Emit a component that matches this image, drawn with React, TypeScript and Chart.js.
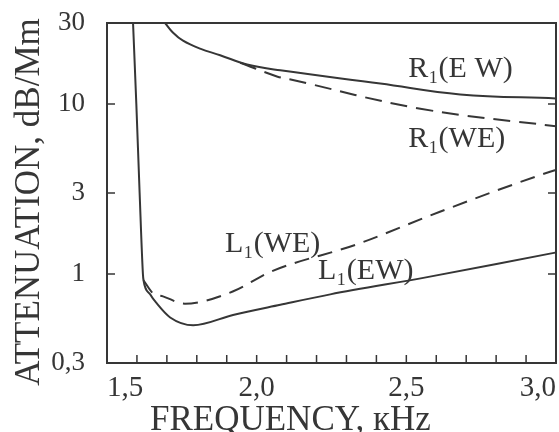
import React, { useEffect, useRef } from "react";
import { Chart, registerables } from "chart.js";

Chart.register(...registerables);

// ---- data ----
const xTickValues = [1.5, 2.0, 2.5, 3.0];
const xTickLabels = ["1,5", "2,0", "2,5", "3,0"];
const xMinorTicks = [1.6, 1.7, 1.8, 1.9, 2.0, 2.1, 2.2, 2.3, 2.4, 2.5, 2.6, 2.7, 2.8, 2.9];
const yTickValues = [0.3, 1, 3, 10, 30];
const yTickLabels = ["0,3", "1", "3", "10", "30"];
const yInnerTicks = [1, 3, 10];

// R1 (E W) solid
const r1EWFreq = [1.694, 1.72, 1.754, 1.811, 1.878, 1.968, 2.079, 2.413, 2.68, 3.0];
const r1EWAtt = [30, 26.4, 23.6, 21.2, 19.4, 17.1, 15.8, 13.2, 11.4, 10.8];

// R1 (W E) dashed
const r1WEFreq = [1.945, 2.07, 2.11, 2.547, 3.0];
const r1WEAtt = [17.5, 14.5, 14.0, 9.4, 7.4];

// L1 (E W) solid
const l1EWFreq = [1.587, 1.598, 1.609, 1.62, 1.622, 1.644, 1.667, 1.711, 1.788, 1.921, 2.079, 2.246, 2.57, 2.98, 3.0];
const l1EWAtt = [30, 10, 3, 1, 0.92, 0.76, 0.67, 0.556, 0.5, 0.575, 0.66, 0.76, 0.96, 1.32, 1.34];

// L1 (W E) dashed
const l1WEFreq = [1.622, 1.654, 1.687, 1.76, 1.92, 2.045, 2.336, 2.61, 2.98, 3.0];
const l1WEAtt = [0.92, 0.77, 0.74, 0.67, 0.79, 1.03, 1.5, 2.32, 4.0, 4.1];

const curveLabelText = ["R\u2081(E W)", "R\u2081(WE)", "L\u2081(WE)", "L\u2081(EW)"];
const curveLabelFreq = [2.506, 2.506, 1.894, 2.205];
const curveLabelAtt = [14.4, 5.6, 1.35, 0.935];

const xTitle = "FREQUENCY, \u043AHz";
const yTitle = "ATTENUATION, dB/Mm";

const INK = "#363636";
const FONT = '"Liberation Serif", "DejaVu Serif", serif';

const toPoints = (xs: number[], ys: number[]) => xs.map((x, i) => ({ x, y: ys[i] }));

const decor = {
  id: "decor",
  afterDraw(chart: any) {
    const ctx: CanvasRenderingContext2D = chart.ctx;
    const ca = chart.chartArea;
    const xs = chart.scales.x;
    const ys = chart.scales.y;
    ctx.save();
    ctx.setLineDash([]);
    ctx.strokeStyle = INK;
    ctx.lineWidth = 2;
    ctx.beginPath();
    ctx.moveTo(ca.left, ca.top);
    ctx.lineTo(ca.right, ca.top);
    ctx.lineTo(ca.right, ca.bottom);
    ctx.lineTo(ca.left, ca.bottom);
    ctx.closePath();
    ctx.stroke();

    ctx.lineWidth = 1.5;
    ctx.beginPath();
    for (const v of xMinorTicks) {
      const px = xs.getPixelForValue(v);
      ctx.moveTo(px, ca.bottom);
      ctx.lineTo(px, ca.bottom - 8);
    }
    for (const v of yInnerTicks) {
      const py = ys.getPixelForValue(v);
      ctx.moveTo(ca.left, py);
      ctx.lineTo(ca.left + 8, py);
      ctx.moveTo(ca.right, py);
      ctx.lineTo(ca.right - 8, py);
    }
    ctx.stroke();

    ctx.fillStyle = INK;
    ctx.textAlign = "left";
    ctx.textBaseline = "alphabetic";
    ctx.font = `30px ${FONT}`;
    curveLabelText.forEach((t, i) => {
      ctx.fillText(t, xs.getPixelForValue(curveLabelFreq[i]), ys.getPixelForValue(curveLabelAtt[i]));
    });

    ctx.font = `35px ${FONT}`;
    ctx.fillText(xTitle, 150, 430);

    ctx.save();
    ctx.translate(30, 202);
    ctx.rotate(-Math.PI / 2);
    ctx.textAlign = "center";
    ctx.textBaseline = "middle";
    ctx.fillText(yTitle, 0, 0);
    ctx.restore();
    ctx.restore();
  },
};

export default function App() {
  const ref = useRef<HTMLCanvasElement | null>(null);
  useEffect(() => {
    if (!ref.current) return;
    const common = { borderColor: INK, borderWidth: 2, pointRadius: 0, fill: false };
    const smooth = { tension: 0.4 };
    const mono = { cubicInterpolationMode: "monotone" as const };
    const chart = new Chart(ref.current, {
      type: "line",
      data: {
        datasets: [
          { label: "R1(EW)", data: toPoints(r1EWFreq, r1EWAtt), ...common, ...smooth },
          { label: "R1(WE)", data: toPoints(r1WEFreq, r1WEAtt), ...common, ...smooth, borderDash: [17, 9] },
          { label: "L1(EW)", data: toPoints(l1EWFreq, l1EWAtt), ...common, ...mono },
          { label: "L1(WE)", data: toPoints(l1WEFreq, l1WEAtt), ...common, ...mono, borderDash: [15, 9] },
        ],
      },
      options: {
        responsive: false,
        animation: false,
        parsing: false as any,
        layout: { padding: { left: 0, top: 23, right: 3, bottom: 0 } },
        plugins: { legend: { display: false }, tooltip: { enabled: false } },
        scales: {
          x: {
            type: "linear",
            min: 1.5,
            max: 3.0,
            grid: { display: false, drawTicks: false },
            border: { display: false },
            afterBuildTicks: (s: any) => {
              s.ticks = xTickValues.map((v) => ({ value: v }));
            },
            afterFit: (s: any) => {
              s.height = 69;
              s.paddingLeft = 0;
              s.paddingRight = 0;
            },
            ticks: {
              align: "inner",
              padding: 8,
              color: INK,
              font: { family: FONT, size: 29 },
              maxRotation: 0,
              callback: (_v: any, i: number) => xTickLabels[i],
            },
          },
          y: {
            type: "logarithmic",
            min: 0.3,
            max: 30,
            grid: { display: false, drawTicks: false },
            border: { display: false },
            afterBuildTicks: (s: any) => {
              s.ticks = yTickValues.map((v) => ({ value: v }));
            },
            afterFit: (s: any) => {
              s.width = 107;
              s.paddingTop = 0;
              s.paddingBottom = 0;
            },
            ticks: {
              padding: 22,
              color: INK,
              font: { family: FONT, size: 27 },
              callback: (_v: any, i: number) => yTickLabels[i],
            },
          },
        },
      },
      plugins: [decor],
    });
    return () => chart.destroy();
  }, []);
  return (
    <div style={{ position: "absolute", left: 0, top: 0, width: 559, height: 432, background: "#fff" }}>
      <canvas ref={ref} width={559} height={432} />
    </div>
  );
}
